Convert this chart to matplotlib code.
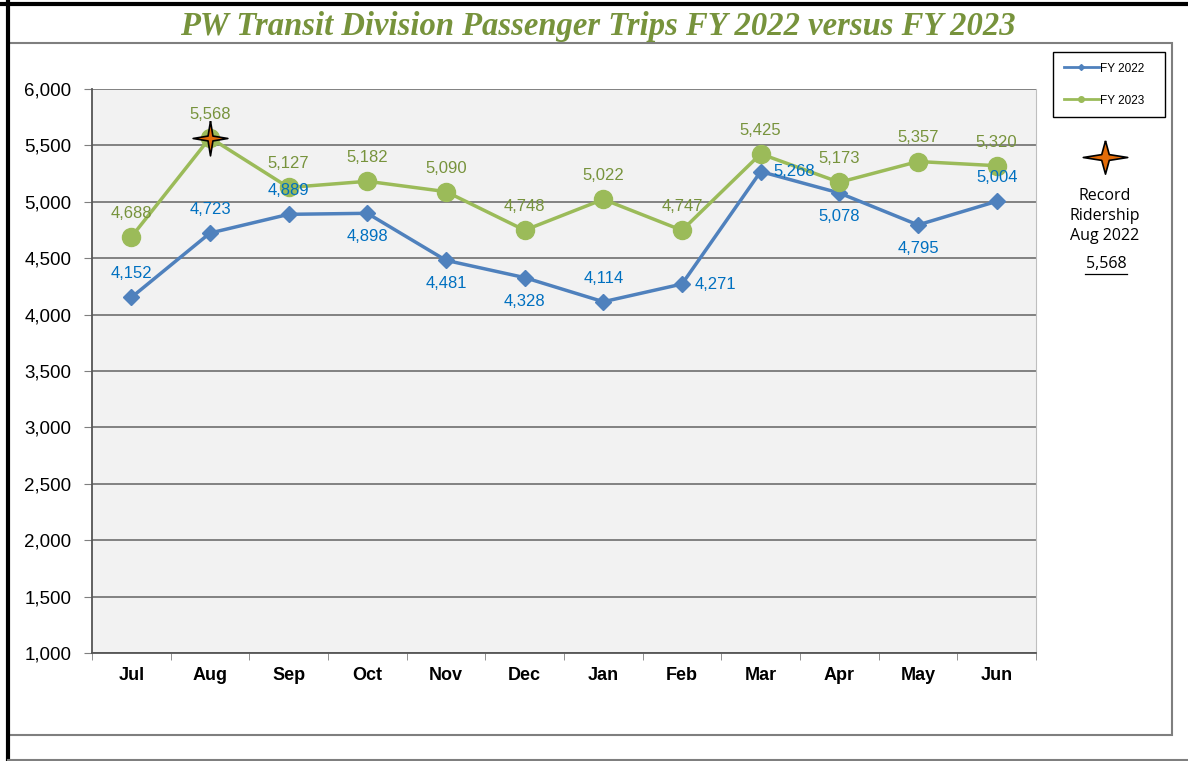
import matplotlib.pyplot as plt
from matplotlib.path import Path
from matplotlib.lines import Line2D
from matplotlib.patches import Rectangle

# Data
months = ['Jul', 'Aug', 'Sep', 'Oct', 'Nov', 'Dec', 'Jan', 'Feb', 'Mar', 'Apr', 'May', 'Jun']
fy2022 = [4152, 4723, 4889, 4898, 4481, 4328, 4114, 4271, 5268, 5078, 4795, 5004]
fy2023 = [4688, 5568, 5127, 5182, 5090, 4748, 5022, 4747, 5425, 5173, 5357, 5320]
# where the blue labels sit relative to the point
fy2022_pos = ['up', 'up', 'up', 'down', 'down', 'down', 'up', 'right', 'right', 'down', 'down', 'up']
record_idx = 1

blue = '#4F81BD'
green = '#9BBB59'
blue_txt = '#0070C0'
green_txt = '#77933C'
orange = '#E36C09'

# 4-point star marker
star = Path([(0, 1), (0.14, 0.14), (1, 0), (0.14, -0.14), (0, -1), (-0.14, -0.14),
             (-1, 0), (-0.14, 0.14), (0, 1)])
star_wide = Path([(0, 0.75), (0.17, 0.13), (1, 0), (0.17, -0.13), (0, -0.75), (-0.17, -0.13),
                  (-1, 0), (-0.17, 0.13), (0, 0.75)])

W, H = 1188, 761
fig = plt.figure(figsize=(W / 100, H / 100), dpi=100)
plt.rcParams['font.family'] = 'Liberation Sans'


def fx(px):
    return px / W


def fy(py):
    return 1 - py / H


# frames of the screenshot
fig.add_artist(Line2D([0, 1], [fy(4), fy(4)], color='black', lw=3))
fig.add_artist(Line2D([fx(8), fx(8)], [0, 1], color='black', lw=3))
fig.add_artist(Rectangle((fx(8), fy(735)), fx(1172 - 8), fy(43) - fy(735),
                         fill=False, edgecolor='#7f7f7f', lw=1.5))
fig.add_artist(Line2D([fx(8), 1], [fy(760), fy(760)], color='#7f7f7f', lw=1.5))

fig.text(fx(598), fy(26), 'PW Transit Division Passenger Trips FY 2022 versus FY 2023',
         ha='center', va='center', fontsize=23.5, fontweight='bold', fontstyle='italic',
         family='Liberation Serif', color=green_txt)

ax = fig.add_axes([fx(92), fy(653), fx(1036 - 92), fy(89) - fy(653)])
ax.set_facecolor('#F2F2F2')
x = list(range(len(months)))

ax.plot(x, fy2022, color=blue, lw=2.5, marker='D', ms=8, label='FY 2022', zorder=3)
ax.plot(x, fy2023, color=green, lw=2.5, marker='o', ms=13, label='FY 2023', zorder=3)
ax.plot(x[record_idx], fy2023[record_idx], marker=star, ms=25, color=orange,
        markeredgecolor='black', markeredgewidth=1.2, linestyle='none', zorder=5)

for i, v in enumerate(fy2023):
    ax.annotate(f'{v:,}', (i, v), xytext=(0, 17), textcoords='offset points',
                ha='center', va='center', fontsize=12, color=green_txt, zorder=6)

offsets = {'up': (0, 17), 'down': (0, -17), 'right': (24, 0)}
for i, (v, p) in enumerate(zip(fy2022, fy2022_pos)):
    ax.annotate(f'{v:,}', (i, v), xytext=offsets[p], textcoords='offset points',
                ha='center', va='center', fontsize=12, color=blue_txt, zorder=6)

ax.set_xlim(-0.5, 11.5)
ax.set_ylim(1000, 6000)
ax.set_yticks(range(1000, 6001, 500))
ax.set_yticklabels([f'{t:,}' for t in range(1000, 6001, 500)], fontsize=13.5)
ax.set_xticks(x)
ax.set_xticklabels(months, fontsize=13, fontweight='bold')
ax.set_xticks([i - 0.5 for i in range(13)], minor=True)
ax.tick_params(axis='x', which='major', length=0, pad=10)
ax.tick_params(axis='x', which='minor', length=5, color='#7f7f7f')
ax.tick_params(axis='y', length=6, color='#7f7f7f', pad=9)
ax.grid(axis='y', color='#6e6e6e', lw=1.2)
ax.set_axisbelow(True)
for s in ['left', 'bottom']:
    ax.spines[s].set_color('#555555')
    ax.spines[s].set_linewidth(1.3)
ax.spines['top'].set_visible(False)
ax.spines['right'].set_color('#bfbfbf')

# legend
handles = [Line2D([], [], color=blue, lw=2, marker='D', ms=3),
           Line2D([], [], color=green, lw=2, marker='o', ms=4)]
leg = fig.legend(handles, ['FY 2022', 'FY 2023'], loc='upper left',
                 bbox_to_anchor=(fx(1047), fy(127), fx(124), fy(46) - fy(127)),
                 mode='expand', fontsize=8.5, frameon=True, fancybox=False, framealpha=1,
                 edgecolor='black', handlelength=3, handletextpad=0.1,
                 labelspacing=1.7, borderpad=0.9)
leg.get_frame().set_linewidth(1.0)

# record ridership note
fig.add_artist(Line2D([fx(1105)], [fy(157)], marker=star_wide, ms=32, color=orange,
                      markeredgecolor='black', markeredgewidth=1.2))
fig.text(fx(1105), fy(216), 'Record\nRidership\nAug 2022', ha='center', va='center',
         fontsize=11.5, family='Open Sans', linespacing=1.3)
fig.text(fx(1106), fy(264), f'{fy2023[record_idx]:,}', ha='center', va='center',
         fontsize=11.5, family='Open Sans')
fig.add_artist(Line2D([fx(1085), fx(1127)], [fy(274), fy(274)], color='black', lw=0.9))

fig.savefig('out.png', dpi=100)
